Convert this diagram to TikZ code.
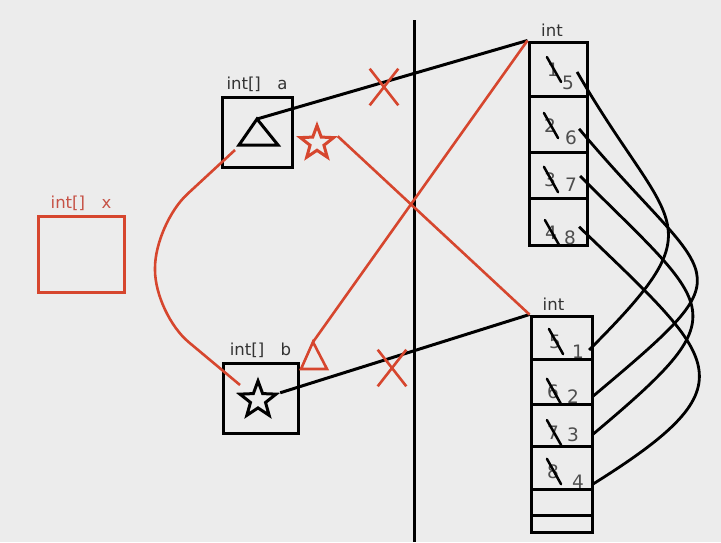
\documentclass[tikz,border=0pt]{standalone}
\usepackage{fontspec}
\setmainfont{DejaVu Sans}
\usetikzlibrary{positioning, shapes.geometric, shapes.misc}
\definecolor{bgBase}{RGB}{236,236,236}
\definecolor{penRed}{RGB}{214,70,46}
\definecolor{lblRed}{RGB}{198,82,70}
\definecolor{digGray}{RGB}{78,78,78}

\begin{document}
\begin{tikzpicture}[
    x=1pt, y=-1pt,
    var/.style={rectangle, draw=black, line width=3pt, minimum width=70pt, minimum height=70pt},
    varx/.style={var, draw=penRed, minimum width=86pt, minimum height=76pt},
    cell/.style={rectangle, draw=black, line width=3pt, minimum width=58pt, inner sep=0pt},
    lbl/.style={font=\fontsize{16.5}{18}\selectfont, text=black!80, inner sep=1pt},
    dig/.style={font=\fontsize{18.5}{20}\selectfont, text=digGray, inner sep=0pt},
    ref/.style={line width=3pt, black},
    redref/.style={line width=2.6pt, penRed},
    strike/.style={line width=2.5pt, black, line cap=round},
    nomark/.style={cross out, draw=penRed, line width=2.6pt, minimum width=26pt, minimum height=34pt},
    pin/.style={star, star points=5, star point ratio=2.4, line width=3pt, minimum size=38pt, inner sep=0pt},
    link/.style={line width=2.8pt, black}
]
\useasboundingbox (0,0) rectangle (721,542);
\fill[bgBase] (0,0) rectangle (721,542);

% --- variables on the stack ---
\node[varx] (boxx) at (81,254) {};
\node[lbl, text=lblRed, above=3pt of boxx] (lblx) {int[]\quad x};

\node[var] (boxa) at (257,132) {};
\node[lbl, above=3pt of boxa] (lbla) {int[]\quad a};

\node[var, minimum width=75pt] (boxb) at (260.5,398) {};
\node[lbl, above=3pt of boxb] (lblb) {int[]\quad b};

% references held by a and b
\draw[ref, line join=miter] (257,119) coordinate (tria) -- (278,145) -- (239,145) -- cycle;
\node[pin, draw=black] (starb) at (258,400) {};
\node[pin, draw=penRed, minimum size=35pt] (stara) at (317,143) {};
\draw[redref, line join=miter] (313,342) coordinate (trib) -- (327,369) -- (301,369) -- cycle;

% --- divider stack | heap ---
\coordinate (divtop) at (414,20);
\coordinate (divbot) at (414,542);
\draw[ref] (divtop) -- (divbot);

% --- heap arrays ---
\foreach \i/\ya/\yb in {1/42/96, 2/96/152, 3/152/198, 4/198/245}
    \node[cell, minimum height={(\yb-\ya)*1pt}] (top\i) at (558,{(\ya+\yb)/2}) {};
\node[lbl, above=3pt of top1, xshift=-6pt] (inttop) {int};

\foreach \i/\ya/\yb in {1/316/359, 2/359/404, 3/404/446, 4/446/489, 5/489/515, 6/515/532}
    \node[cell, minimum width=61pt, minimum height={(\yb-\ya)*1pt}] (bot\i) at (561.5,{(\ya+\yb)/2}) {};
\node[lbl, above=3pt of bot1, xshift=-8pt] (intbot) {int};

% old values (struck) and new values
\foreach \o/\ox/\oy/\n/\nx/\ny in {1/553/70/5/568/83, 2/550/126/6/571/138, 3/550/180/7/571/185, 4/551/233/8/570/238,
                                    5/555/342/1/578/352, 6/553/392/2/573/397, 7/553/433/3/573/435, 8/553/472/4/578/482} {
    \node[dig] (was\o) at (\ox,\oy) {\o};
    \draw[strike] ([shift={(0pt,6pt)}]was\o.north west) -- ([shift={(2pt,-5pt)}]was\o.south east);
    \node[dig] (val\n) at (\nx,\ny) {\n};
}

% swapping the values element by element
\draw[link] ([shift={(3pt,4pt)}]val5.north east) to[out=-60, in=45, looseness=1.7] ([shift={(5pt,2pt)}]val1.east);
\draw[link] ([shift={(2pt,2pt)}]val6.north east) to[out=-50, in=40, looseness=2.0] ([shift={(13pt,0pt)}]val2.east);
\draw[link] ([shift={(3pt,2pt)}]val7.north east) to[out=-45, in=40, looseness=1.9] ([shift={(13pt,0pt)}]val3.east);
\draw[link] ([shift={(3pt,4pt)}]val8.north east) to[out=-44, in=32, looseness=1.9] ([shift={(9pt,-2pt)}]val4.east);

% old references, crossed out
\draw[ref] (tria) -- (top1.north west);
\draw[ref] (starb.18) -- (bot1.north west);
\node[nomark] (xa) at (384,87) {};
\node[nomark] (xb) at (392,368) {};

% new references after the swap
\draw[redref] (stara.18) -- (bot1.north west);
\draw[redref] (top1.north west) -- (trib);
\draw[redref, rounded corners=44pt] ([xshift=-22pt,yshift=-18pt]boxa.center) -- (155,224) -- (155,314) -- ([xshift=-18pt,yshift=15pt]starb.center);

\end{tikzpicture}
\end{document}
